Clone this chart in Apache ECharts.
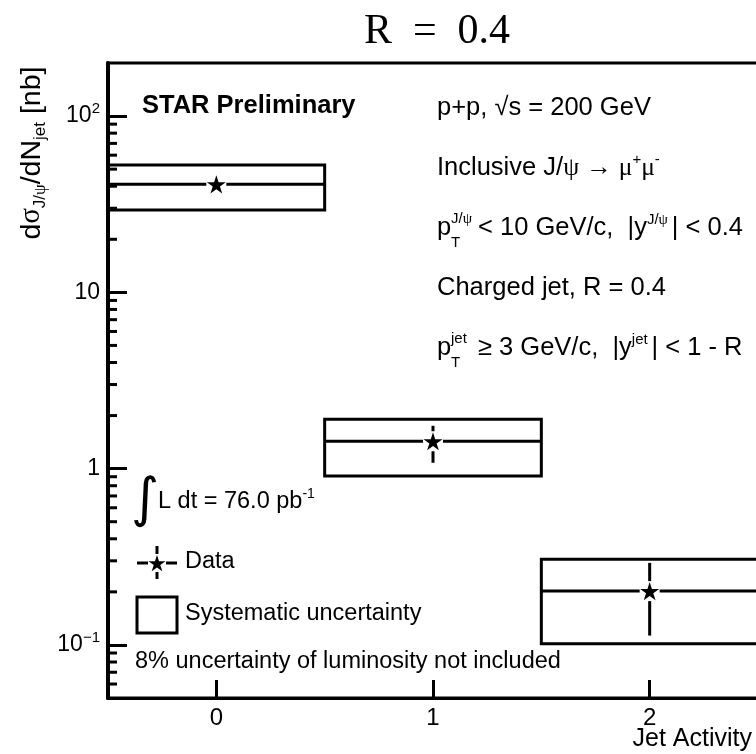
<!DOCTYPE html>
<html>
<head>
<meta charset="utf-8">
<script src="https://cdn.jsdelivr.net/npm/echarts@6/dist/echarts.min.js"></script>
<style>
  html, body { margin: 0; padding: 0; background: #fff; }
  #chart { width: 756px; height: 754px; }
</style>
</head>
<body>
<div id="chart"></div>
<script>
// jet activity bins
const jetActivity = [0, 1, 2];
const binHalfWidth = [0.5, 0.5, 0.5];
// d sigma / dN_jet [nb]
const crossSection = [41.0, 1.43, 0.202];
const statLow = [40.6, 1.08, 0.113];
const statHigh = [41.4, 1.75, 0.292];
const sysLow = [29.3, 0.909, 0.1016];
const sysHigh = [52.7, 1.905, 0.306];

// axes
const xRange = [-0.5, 2.5];
const yRange = [0.05, 200];
const xTickValues = [0, 1, 2];
const yMinorTicks = [0.06, 0.07, 0.08, 0.09, 0.2, 0.3, 0.4, 0.5, 0.6, 0.7, 0.8, 0.9,
  2, 3, 4, 5, 6, 7, 8, 9, 20, 30, 40, 50, 60, 70, 80, 90];

const SANS = '"Liberation Sans", Arial, sans-serif';
const SERIF = '"Liberation Serif", "Times New Roman", serif';

const chart = echarts.init(document.getElementById('chart'));

// text placed by its baseline
function txt(x, baseline, text, size, extra) {
  return {
    type: 'text', x: x, y: baseline - 0.35 * size, silent: true,
    style: Object.assign({
      text: text, fontSize: size, fontFamily: SANS, fill: '#000',
      textAlign: 'left', align: 'left', textVerticalAlign: 'middle', verticalAlign: 'middle'
    }, extra || {})
  };
}

// five pointed star, outer radius r
function starPoints(cx, cy, r) {
  const pts = [];
  for (let k = 0; k < 10; k++) {
    const a = -Math.PI / 2 + k * Math.PI / 5;
    const rr = k % 2 === 0 ? r : r * 0.38;
    pts.push([cx + rr * Math.cos(a), cy + rr * Math.sin(a)]);
  }
  return pts;
}

const black = { stroke: '#000', lineWidth: 3, fill: null };
const gap = 10;

function renderBin(params, api) {
  const x = api.value(0), y = api.value(1), hw = api.value(6);
  const c = api.coord([x, y]);
  const tl = api.coord([x - hw, api.value(5)]);
  const br = api.coord([x + hw, api.value(4)]);
  const l = api.coord([x - hw, y]);
  const r = api.coord([x + hw, y]);
  const eTop = api.coord([x, api.value(3)]);
  const eBot = api.coord([x, api.value(2)]);
  const children = [
    { type: 'rect', shape: { x: tl[0], y: tl[1], width: br[0] - tl[0], height: br[1] - tl[1] }, style: black },
    { type: 'line', shape: { x1: l[0], y1: c[1], x2: c[0] - gap, y2: c[1] }, style: black },
    { type: 'line', shape: { x1: c[0] + gap, y1: c[1], x2: r[0], y2: c[1] }, style: black }
  ];
  if (eTop[1] < c[1] - gap) {
    children.push({ type: 'line', shape: { x1: c[0], y1: eTop[1], x2: c[0], y2: c[1] - gap }, style: black });
  }
  if (eBot[1] > c[1] + gap) {
    children.push({ type: 'line', shape: { x1: c[0], y1: c[1] + gap, x2: c[0], y2: eBot[1] }, style: black });
  }
  children.push({ type: 'polygon', shape: { points: starPoints(c[0], c[1] + 1, 10) }, style: { fill: '#000' } });
  return { type: 'group', children: children };
}

function renderMinorTick(params, api) {
  const c = api.coord([api.value(0), api.value(1)]);
  return { type: 'line', shape: { x1: c[0], y1: c[1], x2: c[0] + 9, y2: c[1] }, style: black };
}

const binData = jetActivity.map((x, i) => [x, crossSection[i], statLow[i], statHigh[i], sysLow[i], sysHigh[i], binHalfWidth[i]]);

const FS = 25.5;   // right-hand block
const LS = 23.5;   // lower-left legend block
const sup = { fontSize: 15, lineHeight: 15, verticalAlign: 'top', fontFamily: SANS };
const supG = { fontSize: 15, lineHeight: 15, verticalAlign: 'top', fontFamily: SERIF };
const sp = { fontSize: 14, lineHeight: 14, fontFamily: SANS };
const greek = { fontFamily: SERIF, fontSize: FS, lineHeight: 32 };

chart.setOption({
  animation: false,
  backgroundColor: '#fff',
  grid: {
    left: 108, top: 63, width: 650, height: 635,
    show: true, borderColor: '#000', borderWidth: 3,
    containLabel: false, outerBoundsMode: 'none'
  },
  xAxis: {
    type: 'value', min: xRange[0], max: xRange[1],
    axisLine: { onZero: false, lineStyle: { color: '#000', width: 3 } },
    axisTick: { inside: true, length: 18, customValues: xTickValues, lineStyle: { color: '#000', width: 3 } },
    axisLabel: { customValues: xTickValues, color: '#000', fontSize: 24, fontFamily: SANS, margin: 8 },
    splitLine: { show: false }
  },
  yAxis: {
    type: 'log', logBase: 10, min: yRange[0], max: yRange[1],
    axisLine: { show: true, onZero: false, lineStyle: { color: '#000', width: 4 } },
    axisTick: { inside: true, length: 19, lineStyle: { color: '#000', width: 3 } },
    axisLabel: {
      color: '#000', fontSize: 23, fontFamily: SANS, margin: 8, lineHeight: 30,
      showMinLabel: false, showMaxLabel: false,
      formatter: function (v) {
        const e = Math.round(Math.log10(v));
        if (Math.abs(Math.log10(v) - e) > 1e-6) return '';
        if (e === 0) return '1';
        if (e === 1) return '10';
        return '10{s|' + (e < 0 ? '\u2212' + (-e) : e) + '}';
      },
      rich: { s: { fontSize: 15, lineHeight: 15, verticalAlign: 'top', fontFamily: SANS, color: '#000' } }
    },
    splitLine: { show: false }
  },
  series: [
    { type: 'custom', name: 'minor ticks', silent: true, clip: false,
      data: yMinorTicks.map(v => [xRange[0], v]), renderItem: renderMinorTick },
    { type: 'custom', name: 'Data', silent: true, clip: false,
      data: binData, renderItem: renderBin }
  ],
  graphic: [
    // title
    txt(437, 47, 'R\u2002=\u20020.4', 42, { fontFamily: SERIF, textAlign: 'center', align: 'center' }),
    // y axis title
    {
      type: 'text', x: 32, y: 153, rotation: Math.PI / 2, silent: true,
      style: {
        text: '{m|d}{g|σ}{s|J/}{sg|ψ}{m|/dN}{s|jet}{m| [nb]}',
        textAlign: 'center', align: 'center', textVerticalAlign: 'middle', verticalAlign: 'middle',
        rich: {
          m: { fontSize: 28.5, lineHeight: 34, fontFamily: SANS, color: '#000' },
          g: { fontSize: 28.5, lineHeight: 34, fontFamily: SERIF, color: '#000' },
          s: { fontSize: 17, lineHeight: 17, verticalAlign: 'bottom', fontFamily: SANS, color: '#000' },
          sg: { fontSize: 17, lineHeight: 17, verticalAlign: 'bottom', fontFamily: SERIF, color: '#000' }
        }
      }
    },
    txt(752, 748, 'Jet Activity', 25, { textAlign: 'right', align: 'right' }),
    txt(142, 115, 'STAR Preliminary', 25.5, { fontWeight: 'bold' }),
    // right-hand annotation block
    txt(437, 117, 'p+p, √s = 200 GeV', FS),
    txt(437, 177, 'Inclusive J/{g|ψ} {g|→} {g|μ}{sup|+}{g|μ}{sup|-}', FS, {
      lineHeight: 32, rich: { g: greek, sup: sup }
    }),
    txt(437, 237, 'p', FS),
    txt(451, 224, 'J/{g|ψ}', 15, { rich: { g: { fontFamily: SERIF, fontSize: 15 } } }),
    txt(451, 248, 'T', 15),
    txt(478, 237, '< 10 GeV/c,  |y{s|J/}{sg|ψ}{sp| }| < 0.4', FS, { lineHeight: 32, rich: { s: sup, sg: supG, sp: sp } }),
    txt(437, 297, 'Charged jet, R = 0.4', FS),
    txt(437, 357, 'p', FS),
    txt(451, 344, 'jet', 15),
    txt(451, 368, 'T', 15),
    txt(478, 357, '≥ 3 GeV/c,  |y{s|jet}{sp| }| < 1 - R', FS, { lineHeight: 32, rich: { s: sup, sp: sp } }),
    // luminosity
    txt(131, 521, '∫', 54, { fontFamily: '"DejaVu Sans", sans-serif' }),
    txt(158, 510, 'L dt = 76.0 pb{s|-1}', LS, { lineHeight: 30, rich: { s: { fontSize: 14, lineHeight: 14, verticalAlign: 'top', fontFamily: SANS } } }),
    // legend
    { type: 'line', silent: true, shape: { x1: 137, y1: 563, x2: 148, y2: 563 }, style: black },
    { type: 'line', silent: true, shape: { x1: 166, y1: 563, x2: 177, y2: 563 }, style: black },
    { type: 'line', silent: true, shape: { x1: 157, y1: 546, x2: 157, y2: 554 }, style: black },
    { type: 'line', silent: true, shape: { x1: 157, y1: 572, x2: 157, y2: 579 }, style: black },
    { type: 'polygon', silent: true, shape: { points: starPoints(157, 564, 9) }, style: { fill: '#000' } },
    txt(185, 570, 'Data', LS),
    { type: 'rect', silent: true, shape: { x: 137, y: 597, width: 40, height: 36 }, style: black },
    txt(185, 622, 'Systematic uncertainty', LS),
    txt(135, 670, '8% uncertainty of luminosity not included', LS)
  ]
});
</script>
</body>
</html>
